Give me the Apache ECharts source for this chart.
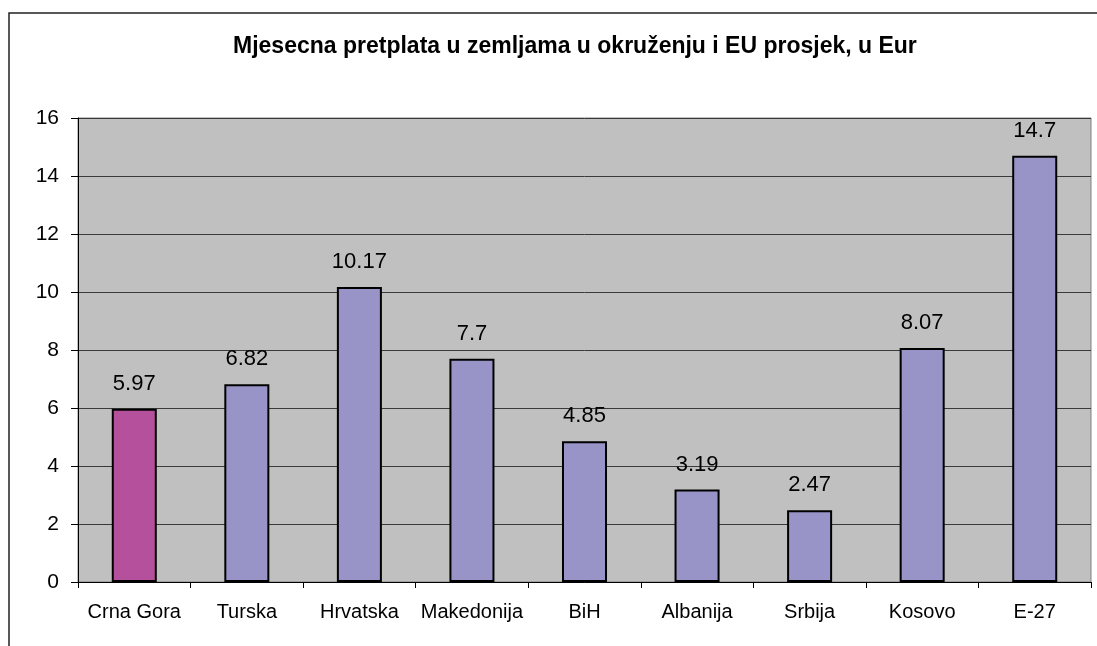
<!DOCTYPE html>
<html>
<head>
<meta charset="utf-8">
<script src="https://cdn.jsdelivr.net/npm/echarts@6/dist/echarts.min.js"></script>
<style>
html,body{margin:0;padding:0;background:#fff;}
#chart{width:1097px;height:646px;}
</style>
</head>
<body>
<div id="chart"></div>
<script>
// podaci
var categories = ['Crna Gora', 'Turska', 'Hrvatska', 'Makedonija', 'BiH', 'Albanija', 'Srbija', 'Kosovo', 'E-27'];
var values = [5.97, 6.82, 10.17, 7.7, 4.85, 3.19, 2.47, 8.07, 14.7];
var highlight = 'Crna Gora';

window.onload = function () {
    var myChart = echarts.init(document.getElementById('chart'));

    var data = [];
    for (var i = 0; i < categories.length; i++) {
        data.push({
            value: values[i],
            itemStyle: { color: categories[i] === highlight ? '#b5509d' : '#9894c8' }
        });
    }

    var option = {
        backgroundColor: '#fff',
        animation: false,
        graphic: [{
            type: 'rect',
            shape: { x: 9, y: 13, width: 1200, height: 1000 },
            style: { fill: 'none', stroke: '#222', lineWidth: 1.5 },
            silent: true
        }],
        title: {
            text: 'Mjesecna pretplata u zemljama u okruženju i EU prosjek, u Eur',
            left: 228,
            top: 30,
            textStyle: {
                fontFamily: 'Liberation Sans, Arial',
                fontSize: 23,
                fontWeight: 'bold',
                color: '#000'
            }
        },
        grid: {
            left: 78,
            right: 6,
            top: 118,
            bottom: 64,
            show: true,
            backgroundColor: '#c0c0c0',
            borderColor: '#808080',
            borderWidth: 1
        },
        xAxis: {
            type: 'category',
            data: categories,
            axisLine: { lineStyle: { color: '#000', width: 1 } },
            axisTick: { show: true, length: 6, lineStyle: { color: '#000' } },
            axisLabel: {
                fontFamily: 'Liberation Sans, Arial',
                fontSize: 20,
                color: '#000',
                margin: 20,
                interval: 0
            }
        },
        yAxis: {
            type: 'value',
            min: 0,
            max: 16,
            interval: 2,
            axisLine: { show: true, lineStyle: { color: '#000', width: 1 } },
            axisTick: { show: true, length: 7, lineStyle: { color: '#000' } },
            axisLabel: {
                fontFamily: 'Liberation Sans, Arial',
                fontSize: 21,
                color: '#000',
                margin: 19
            },
            splitLine: { lineStyle: { color: '#3a3a3a', width: 1 } }
        },
        series: [{
            type: 'bar',
            data: data,
            barWidth: '40%',
            itemStyle: { borderColor: '#000', borderWidth: 2 },
            label: {
                show: true,
                position: 'top',
                distance: 14,
                fontFamily: 'Liberation Sans, Arial',
                fontSize: 22,
                color: '#000'
            }
        }]
    };
    myChart.setOption(option);
};
</script>
</body>
</html>
